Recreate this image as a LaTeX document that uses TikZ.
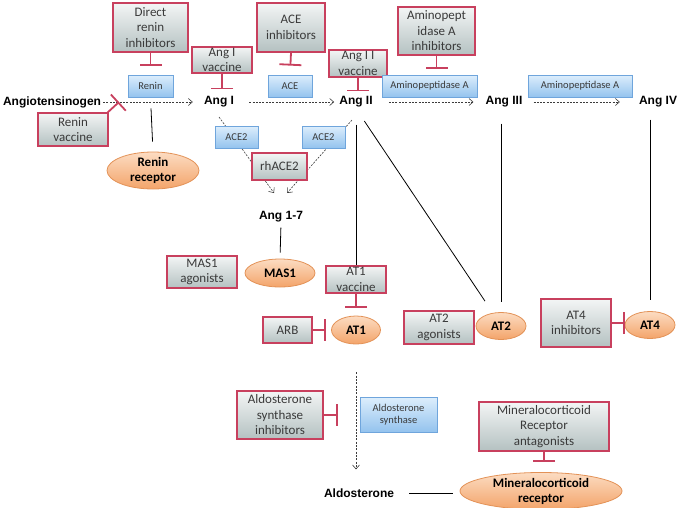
\documentclass[tikz,border=0pt]{standalone}
\usepackage{fontspec}
\setmainfont{Carlito}
\newfontfamily\labfont{Liberation Sans}
\usetikzlibrary{arrows.meta,shapes.geometric,backgrounds,calc}
\definecolor{inhred}{HTML}{C8405E}
\definecolor{gtop}{HTML}{F3F5F5}
\definecolor{gbot}{HTML}{B4C1C1}
\definecolor{btop}{HTML}{DDEEFC}
\definecolor{bbot}{HTML}{94C3EE}
\definecolor{bdraw}{HTML}{6FA5DC}
\definecolor{otop}{HTML}{FCDCC2}
\definecolor{obot}{HTML}{F3A46A}
\definecolor{odraw}{HTML}{E39257}
\definecolor{boxtext}{HTML}{3A3A3A}
\definecolor{dashcol}{HTML}{3C3C3C}
\begin{document}
\begin{tikzpicture}[x=1pt,y=-1pt,
  inhbox/.style={draw=inhred, line width=1.3pt, top color=gtop, bottom color=gbot,
    align=center, font=\fontsize{13}{15.5}\selectfont, text=boxtext, inner sep=0pt},
  enz/.style={draw=bdraw, line width=0.8pt, top color=btop, bottom color=bbot,
    align=center, font=\fontsize{10.5}{12.5}\selectfont, text=boxtext, inner sep=0pt},
  rec/.style={ellipse, draw=odraw, line width=0.8pt, top color=otop, bottom color=obot,
    align=center, font=\bfseries\fontsize{13}{15}\selectfont, text=black, inner sep=0pt},
  lab/.style={font=\labfont\bfseries\fontsize{12}{14}\selectfont, inner sep=1pt},
  inh/.style={draw=inhred, line width=1.8pt, -{Bar[width=22pt]}},
  dashar/.style={draw=dashcol, line width=0.6pt, dash pattern=on 2pt off 1.3pt,
    -{Straight Barb[length=4pt,width=7pt,line width=0.6pt]}},
  link/.style={draw=black, line width=0.8pt}
]
\useasboundingbox (0,0) rectangle (679,507);

% labels
\node[lab] (agt) at (52,102) {Angiotensinogen};
\node[lab] (angI) at (219,102) {Ang I};
\node[lab] (angII) at (356,102) {Ang II};
\node[lab] (angIII) at (504,102) {Ang III};
\node[lab] (angIV) at (658,102) {Ang IV};
\node[lab] (a17) at (281,217) {Ang 1-7};
\node[lab] (aldo) at (359,493) {Aldosterone};

% lines on background
\begin{pgfonlayer}{background}
\draw[dashar, shorten <=1pt, shorten >=10pt] (agt.east) -- (angI.west);
\draw[dashar, shorten <=14pt, shorten >=4pt] (angI.east) -- (angII.west);
\draw[dashar, shorten <=15pt, shorten >=11pt] (angII.east) -- (angIII.west);
\draw[dashar, shorten <=10pt, shorten >=18pt] (angIII.east) -- (angIV.west);
\coordinate (d1s) at (219,117);
\coordinate (d1e) at (274,193);
\coordinate (d2s) at (352,120);
\coordinate (d2e) at (287,193);
\draw[dashar] (d1s) -- (d1e);
\draw[dashar] (d2s) -- (d2e);
\end{pgfonlayer}

% inhibitor boxes
\node[inhbox, minimum width=75pt, minimum height=49pt] (dri) at (150.5,27.5) {Direct\\renin\\inhibitors};
\node[inhbox, minimum width=70pt, minimum height=33pt] (rv) at (73,129.5) {Renin\\vaccine};
\node[inhbox, minimum width=60pt, minimum height=26pt] (aiv) at (222,60) {Ang I\\vaccine};
\node[inhbox, minimum width=68pt, minimum height=49pt] (acei) at (291,27.5) {ACE\\inhibitors};
\node[inhbox, minimum width=58pt, minimum height=27pt] (aiiv) at (358,63.5) {Ang I I\\vaccine};
\node[inhbox, minimum width=77pt, minimum height=48pt] (api) at (436.5,31) {Aminopept\\idase A\\inhibitors};
\node[inhbox, minimum width=55pt, minimum height=27pt] (rh) at (279.5,166.5) {rhACE2};
\node[inhbox, minimum width=70pt, minimum height=32pt] (masag) at (202,272) {MAS1\\agonists};
\node[inhbox, minimum width=60pt, minimum height=27pt] (at1v) at (356,279.5) {AT1\\vaccine};
\node[inhbox, minimum width=49pt, minimum height=26pt] (arb) at (287.5,330) {ARB};
\node[inhbox, minimum width=70pt, minimum height=33pt] (at2ag) at (439,327.5) {AT2\\agonists};
\node[inhbox, minimum width=70pt, minimum height=48pt] (at4i) at (576,323) {AT4\\inhibitors};
\node[inhbox, minimum width=86pt, minimum height=48pt] (asi) at (280,415) {Aldosterone\\synthase\\inhibitors};
\node[inhbox, minimum width=130pt, minimum height=49pt] (mra) at (544,426.5) {Mineralocorticoid\\Receptor\\antagonists};

% enzymes
\node[enz, minimum width=45pt, minimum height=22pt] (renin) at (150.5,86) {Renin};
\node[enz, minimum width=44pt, minimum height=22pt] (ace) at (290,86) {ACE};
\node[enz, minimum width=95pt, minimum height=22pt] (apa1) at (429.5,86) {Aminopeptidase A};
\node[enz, minimum width=104pt, minimum height=22pt] (apa2) at (580,86) {Aminopeptidase A};
\node[enz, minimum width=43pt, minimum height=22pt] (ace2a) at (236.5,137) {ACE2};
\node[enz, minimum width=43pt, minimum height=22pt] (ace2b) at (323.5,137) {ACE2};
\node[enz, minimum width=77pt, minimum height=35pt] (as) at (398.5,414.5) {Aldosterone\\synthase};

% receptors
\node[rec, minimum width=92pt, minimum height=29pt] (rr) at (153,170.5) {Renin\\receptor};
\node[rec, minimum width=70pt, minimum height=28pt] (mas1) at (280,273) {MAS1};
\node[rec, minimum width=49pt, minimum height=28pt] (at1) at (356,330) {AT1};
\node[rec, minimum width=50pt, minimum height=27pt] (at2) at (501,326) {AT2};
\node[rec, minimum width=50pt, minimum height=27pt] (at4) at (650,325) {AT4};
\node[rec, minimum width=162pt, minimum height=31pt] (mr) at (541,491) {Mineralocorticoid\\receptor};

% inhibitions
\draw[inh, shorten >=9pt] (dri.south) -- (renin.north);
\coordinate (rvt) at (119,102);
\draw[inh] ($(rv.north east)+(-2,1)$) -- (rvt);
\draw[inh, shorten >=6pt] (aiv.south) -- (aiv.south |- angI.north);
\draw[inh, shorten >=9pt] (acei.south) -- (ace.north);
\draw[inh, shorten >=4pt] (aiiv.south) -- (aiiv.south |- angII.north);
\draw[inh, shorten >=6pt] (api.south) -- (api.south |- apa1.north);
\draw[inh, shorten >=8pt] (at1v.south) -- (at1.north);
\draw[inh, shorten >=5pt] (arb.east) -- (arb.east -| at1.west);
\draw[inh] (at4i.east) -- (at4i.east -| at4.west);
\draw[inh] (asi.east) -- ++(14,0) coordinate (asib);
\draw[inh, shorten >=10pt] (mra.south) -- (mra.south |- mr.north);

% solid links
\draw[link, shorten <=11pt, shorten >=10pt] (renin.south) -- (rr.north);
\draw[link, shorten <=4pt, shorten >=6pt] (a17.south) -- (mas1.north);
\draw[link, shorten <=16pt] (at1v.north |- angII.south) -- (at1v.north);
\draw[link, shorten <=15pt] (angII.south) -- ($(at2.north)+(-16,-11)$);
\draw[link, shorten <=15pt, shorten >=10pt] (at2.north |- angIII.south) -- (at2.north);
\draw[link, shorten <=11pt, shorten >=11pt] (at4.north |- angIV.south) -- (at4.north);
\draw[link, shorten <=14pt, shorten >=7pt] (aldo.east) -- (aldo.east -| mr.west);

% aldosterone synthesis
\draw[dashar, shorten <=28pt, shorten >=18pt] (at1.south) -- (at1.south |- aldo.north);
\end{tikzpicture}
\end{document}
